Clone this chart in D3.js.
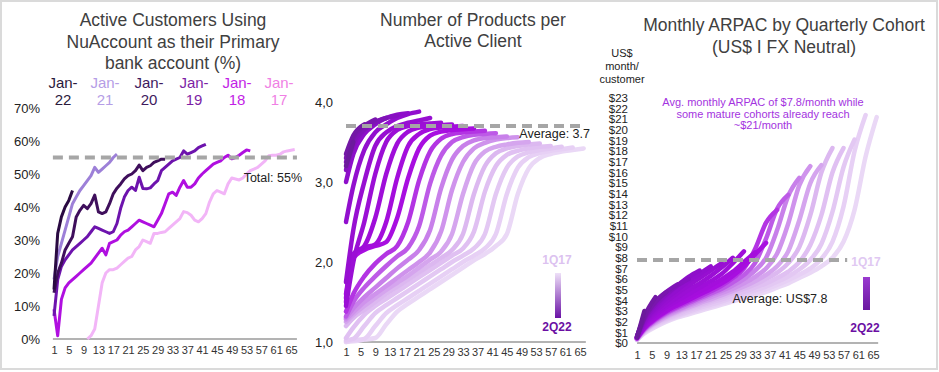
<!DOCTYPE html>
<html>
<head>
<meta charset="utf-8">
<script src="https://cdn.jsdelivr.net/npm/d3@7"></script>
<style>
  body { margin: 0; background: #fff; }
  svg { display: block; }
</style>
</head>
<body>
<div class="chart"></div>
<script>
const WIDTH = 939;
const HEIGHT = 372;
const FONT = "'Liberation Sans', Arial, Helvetica, sans-serif";

// ---- shared ----
const monthTicks = [1, 5, 9, 13, 17, 21, 25, 29, 33, 37, 41, 45, 49, 53, 57, 61, 65];

// ---- panel 1: primary bank account (%) by yearly cohort, monthly values ----
const yearCohorts = ["Jan-17", "Jan-18", "Jan-19", "Jan-20", "Jan-21", "Jan-22"];
const yearStart = [10, 1, 1, 1, 1, 1];
const jan17 = [0, 1, 3, 10, 17, 20, 21, 21, 21.5, 22.5, 23.5, 24.5, 25, 27, 28, 30, 29.5, 29, 32, 32,
  32.3, 32.5, 33.5, 34.5, 35.5, 36.5, 38.6, 38.3, 37.5, 36, 35.5, 36.5, 38, 41.5, 44, 45, 44.5, 44,
  47, 48.8, 48.5, 48.2, 48.8, 50, 51, 51.5, 52, 53, 54, 55.5, 55.7, 55.7, 56, 56.7, 57, 57.2, 57.4];
const jan18 = [9, 1, 12, 15.5, 17, 18, 19, 20, 21, 22, 23, 24.5, 26, 27.5, 25.5, 29, 29.5, 30, 31.5,
  32.5, 33, 34, 35, 36, 35.5, 35, 34.5, 34, 36, 38, 41, 44, 44.5, 43.5, 46, 48, 46, 46, 47, 48.8,
  50, 51, 52, 53, 53.5, 54, 55, 55.7, 54.6, 55, 55.7, 56.5, 57.3, 57];
const jan19 = [7, 18, 22, 24, 25.5, 27, 28, 29, 30, 31, 32.5, 34, 33.5, 33, 32.5, 32, 32.5, 35, 39.6,
  43, 45, 46, 45, 49, 45.6, 45.5, 45.8, 47, 48, 51, 52, 53, 54, 54.5, 55, 57, 56, 56.5, 57, 58, 58.5, 59];
const jan20 = [14, 20, 23, 27, 29, 31, 37, 39, 40.5, 39.5, 41, 43.6, 38.5, 38, 38.5, 41, 44, 45.7, 47,
  48.5, 49.5, 50, 51, 52.7, 51, 52, 52.5, 53.5, 54, 54.5, 54.5];
const jan21 = [18, 25, 29, 33, 37, 41, 43, 45, 46.5, 48, 49.5, 52, 50.5, 51.5, 52.5, 53.5, 55, 56];
const jan22 = [15, 32, 37, 40, 42, 45];
const yearValues = [jan17, jan18, jan19, jan20, jan21, jan22];
const yearLineColors = ["#f2b5f7", "#b00fe0", "#6d13ad", "#3f0f5c", "#9d80d8", "#2a0a42"];
const yearLabelColors = ["#f07fe4", "#c21ee6", "#7d1fa6", "#3e1a5e", "#b59de6", "#2b1a3c"];
const primaryTotal = 55;

// ---- panels 2 & 3: quarterly cohorts, values at months 1,3,6,...,66 ----
const quarterCohorts = ["1Q17", "2Q17", "3Q17", "4Q17", "1Q18", "2Q18", "3Q18", "4Q18", "1Q19", "2Q19",
  "3Q19", "4Q19", "1Q20", "2Q20", "3Q20", "4Q20", "1Q21", "2Q21", "3Q21", "4Q21", "1Q22", "2Q22"];
const sampleMonths = [1, 3, 6, 9, 12, 15, 18, 21, 24, 27, 30, 33, 36, 39, 42, 45, 48, 51, 54, 57, 60, 63, 66];

const productValues = [
  [1.00, 1.01, 1.03, 1.05, 1.22, 1.38, 1.48, 1.57, 1.66, 1.75, 1.84, 1.93, 2.02, 2.10, 2.20, 2.35, 2.85, 3.17, 3.30, 3.35, 3.38, 3.40, 3.42],
  [1.00, 1.02, 1.04, 1.20, 1.36, 1.46, 1.55, 1.64, 1.73, 1.82, 1.91, 2.00, 2.08, 2.17, 2.35, 2.85, 3.18, 3.31, 3.36, 3.39, 3.41, 3.43],
  [1.02, 1.04, 1.20, 1.36, 1.46, 1.55, 1.64, 1.73, 1.82, 1.91, 2.00, 2.08, 2.17, 2.35, 2.85, 3.18, 3.32, 3.37, 3.40, 3.42, 3.44],
  [1.05, 1.18, 1.34, 1.45, 1.54, 1.63, 1.72, 1.81, 1.90, 1.99, 2.08, 2.17, 2.38, 2.88, 3.20, 3.34, 3.39, 3.42, 3.44, 3.45],
  [1.20, 1.30, 1.40, 1.50, 1.60, 1.69, 1.78, 1.87, 1.96, 2.05, 2.15, 2.35, 2.85, 3.20, 3.36, 3.42, 3.45, 3.47, 3.48],
  [1.25, 1.34, 1.45, 1.55, 1.65, 1.74, 1.83, 1.93, 2.03, 2.13, 2.35, 2.85, 3.22, 3.38, 3.44, 3.47, 3.49, 3.50],
  [1.28, 1.37, 1.50, 1.60, 1.70, 1.80, 1.90, 2.00, 2.12, 2.38, 2.90, 3.25, 3.42, 3.49, 3.53, 3.55, 3.56],
  [1.30, 1.42, 1.56, 1.68, 1.80, 1.92, 2.03, 2.15, 2.40, 2.92, 3.28, 3.45, 3.52, 3.55, 3.56, 3.57],
  [1.32, 1.50, 1.68, 1.82, 1.95, 2.07, 2.18, 2.45, 2.98, 3.33, 3.50, 3.56, 3.59, 3.60, 3.61],
  [1.38, 1.60, 1.82, 1.98, 2.10, 2.20, 2.50, 3.02, 3.38, 3.54, 3.60, 3.62, 3.63, 3.64],
  [1.60, 2.05, 2.15, 2.20, 2.25, 2.55, 3.05, 3.42, 3.58, 3.63, 3.65, 3.66, 3.67],
  [1.55, 2.10, 2.18, 2.22, 2.50, 3.05, 3.45, 3.60, 3.66, 3.68, 3.69, 3.70],
  [1.50, 2.10, 2.20, 2.55, 3.10, 3.48, 3.63, 3.68, 3.70, 3.71, 3.72],
  [1.45, 2.00, 2.50, 3.10, 3.50, 3.65, 3.70, 3.72, 3.73, 3.74],
  [1.75, 2.40, 3.00, 3.45, 3.62, 3.70, 3.74, 3.77, 3.80],
  [2.50, 2.95, 3.40, 3.62, 3.72, 3.80, 3.85, 3.88],
  [3.00, 3.35, 3.60, 3.72, 3.80, 3.84, 3.86],
  [3.15, 3.45, 3.65, 3.75, 3.80, 3.83],
  [3.25, 3.50, 3.66, 3.75, 3.80],
  [3.30, 3.55, 3.70, 3.78],
  [3.35, 3.58, 3.72],
  [3.20, 3.50]
];
const productAverage = 3.7;

const arpacValues = [
  [0.3, 0.9, 1.5, 2.0, 2.4, 2.7, 3.0, 3.3, 3.6, 3.9, 4.2, 4.5, 4.8, 5.2, 5.6, 6.1, 6.6, 7.2, 8.0, 9.5, 12.5, 17.5, 21.2],
  [0.3, 1.0, 1.6, 2.1, 2.5, 2.85, 3.15, 3.45, 3.75, 4.05, 4.4, 4.7, 5.05, 5.45, 5.9, 6.4, 7.0, 7.9, 9.5, 12.8, 18.0, 21.4],
  [0.3, 1.0, 1.7, 2.2, 2.6, 2.95, 3.3, 3.6, 3.9, 4.25, 4.6, 4.95, 5.3, 5.75, 6.25, 6.9, 7.8, 9.3, 12.3, 16.5, 19.1],
  [0.35, 1.1, 1.8, 2.3, 2.7, 3.1, 3.45, 3.8, 4.1, 4.45, 4.8, 5.2, 5.6, 6.1, 6.7, 7.6, 9.2, 12.0, 16.0, 18.3],
  [0.35, 1.1, 1.85, 2.4, 2.85, 3.25, 3.6, 3.95, 4.3, 4.7, 5.1, 5.5, 6.0, 6.6, 7.5, 9.0, 12.0, 16.0, 18.3],
  [0.35, 1.15, 1.9, 2.5, 2.95, 3.35, 3.75, 4.1, 4.5, 4.9, 5.3, 5.8, 6.4, 7.2, 8.6, 11.5, 15.0, 16.7],
  [0.4, 1.2, 2.0, 2.6, 3.05, 3.5, 3.9, 4.3, 4.7, 5.1, 5.6, 6.2, 7.0, 8.4, 11.2, 14.8, 16.6],
  [0.4, 1.25, 2.05, 2.7, 3.15, 3.6, 4.05, 4.5, 4.9, 5.4, 6.0, 6.8, 8.0, 10.6, 13.8, 15.5],
  [0.4, 1.3, 2.15, 2.8, 3.3, 3.75, 4.2, 4.65, 5.1, 5.7, 6.4, 7.5, 9.8, 12.6, 13.9],
  [0.45, 1.35, 2.2, 2.9, 3.4, 3.9, 4.35, 4.85, 5.4, 6.1, 7.0, 8.8, 11.3, 12.5],
  [0.45, 1.4, 2.3, 3.0, 3.55, 4.05, 4.55, 5.05, 5.6, 6.3, 7.2, 8.3, 9.4],
  [0.5, 1.5, 2.45, 3.15, 3.75, 4.3, 4.85, 5.4, 6.0, 6.7, 7.6, 8.5],
  [0.5, 1.6, 2.6, 3.4, 4.0, 4.6, 5.2, 5.8, 6.5, 7.5, 8.6],
  [0.5, 1.7, 2.8, 3.6, 4.3, 5.0, 5.6, 6.3, 7.1, 8.0],
  [0.55, 1.8, 3.0, 3.9, 4.7, 5.4, 6.1, 6.8, 7.5],
  [0.55, 1.9, 3.2, 4.2, 5.0, 5.8, 6.5, 7.2],
  [0.6, 2.0, 3.4, 4.5, 5.4, 6.2, 6.8],
  [0.6, 2.2, 3.6, 4.6, 5.4, 6.0],
  [0.6, 2.3, 3.8, 4.8, 5.5],
  [0.6, 2.4, 3.9, 4.8],
  [0.6, 2.5, 4.3],
  [0.5, 3.0]
];
const arpacAverage = 7.8;

const pctTicks = [0, 10, 20, 30, 40, 50, 60, 70];
const productTicks = [1, 2, 3, 4];
const dollarTicks = [0, 1, 2, 3, 4, 5, 6, 7, 8, 9, 10, 11, 12, 13, 14, 15, 16, 17, 18, 19, 20, 21, 22, 23];

const cohortColor = d3.scaleLinear()
  .domain([0, 4, 7, 10, 16, 21])
  .range(["#ead8f6", "#dcb8f0", "#c880ea", "#a80ee0", "#8e0fca", "#6c1a9c"]);

// ---- svg ----
const svg = d3.select(".chart").append("svg")
  .attr("width", WIDTH)
  .attr("height", HEIGHT)
  .attr("font-family", FONT);

svg.append("rect")
  .attr("x", 1).attr("y", 1)
  .attr("width", 936).attr("height", 368)
  .attr("fill", "#fff")
  .attr("stroke", "#dadada")
  .attr("stroke-width", 2);

const defs = svg.append("defs");
function gradient(id, top, bottom) {
  const lg = defs.append("linearGradient").attr("id", id)
    .attr("x1", 0).attr("y1", 0).attr("x2", 0).attr("y2", 1);
  lg.append("stop").attr("offset", "0%").attr("stop-color", top);
  lg.append("stop").attr("offset", "100%").attr("stop-color", bottom);
}
gradient("legend2", "#eee0f8", "#6a12a6");
gradient("legend3", "#9a3ad0", "#6a18a0");

function multiText(lines, x, y0, dy, size, color, anchor) {
  svg.append("text")
    .attr("text-anchor", anchor || "middle")
    .attr("font-size", size)
    .attr("fill", color)
    .selectAll("tspan")
    .data(lines)
    .join("tspan")
      .attr("x", x)
      .attr("y", (d, i) => y0 + i * dy)
      .text(d => d);
}

function bottomAxis(scale, yPos, pad, x0, x1) {
  svg.append("line")
    .attr("x1", x0).attr("x2", x1)
    .attr("y1", yPos).attr("y2", yPos)
    .attr("stroke", "#9a9a9a")
    .attr("stroke-width", 1.5);
  const g = svg.append("g")
    .attr("transform", "translate(0," + yPos + ")")
    .call(d3.axisBottom(scale).tickValues(monthTicks).tickSize(0).tickPadding(pad));
  g.select(".domain").remove();
  g.attr("font-family", FONT).attr("font-size", 11);
  g.selectAll("text").attr("fill", "#333");
}

function leftAxis(scale, xPos, ticks, fmt, size) {
  const g = svg.append("g")
    .attr("transform", "translate(" + xPos + ",0)")
    .call(d3.axisLeft(scale).tickValues(ticks).tickFormat(fmt).tickSize(0).tickPadding(0));
  g.select(".domain").remove();
  g.attr("font-family", FONT).attr("font-size", size);
  g.selectAll("text").attr("fill", "#222");
}

function dashed(x0, x1, yPos) {
  svg.append("line")
    .attr("x1", x0).attr("x2", x1)
    .attr("y1", yPos).attr("y2", yPos)
    .attr("stroke", "#a6a6a6")
    .attr("stroke-width", 4)
    .attr("stroke-dasharray", "10,6");
}

// ================= Panel 1 =================
const X1 = d3.scaleLinear().domain([1, 65]).range([54, 291]);
const Y1 = d3.scaleLinear().domain([0, 70]).range([339, 108]);

multiText(["Active Customers Using", "NuAccount as their Primary", "bank account (%)"],
  173, 26, 21.5, 17.5, "#404040");

const labelX = [279, 237, 194, 149, 105, 63];
yearCohorts.forEach((c, i) => {
  const parts = c.split("-");
  multiText([parts[0] + "-", parts[1]], labelX[i], 87.5, 17, 15, yearLabelColors[i]);
});

leftAxis(Y1, 40, pctTicks, d => d + "%", 13);
bottomAxis(X1, 339, 7, X1(0.7), X1(66.6));

const line1 = d3.line()
  .x(d => X1(d.m))
  .y(d => Y1(d.v));

yearValues.forEach((vals, i) => {
  const pts = vals.map((v, j) => ({m: yearStart[i] + j, v: v}));
  svg.append("path")
    .datum(pts)
    .attr("d", line1)
    .attr("fill", "none")
    .attr("stroke", yearLineColors[i])
    .attr("stroke-width", 3)
    .attr("stroke-linejoin", "round");
});

dashed(X1(0.7), X1(66.6), Y1(primaryTotal));
svg.append("text")
  .attr("x", 302).attr("y", 182)
  .attr("text-anchor", "end")
  .attr("font-size", 12.5)
  .attr("fill", "#222")
  .text("Total: " + primaryTotal + "%");

// ================= Panel 2 =================
const X2 = d3.scaleLinear().domain([1, 65]).range([346, 580]);
const Y2 = d3.scaleLinear().domain([1, 4]).range([342, 102]);

multiText(["Number of Products per", "Active Client"], 473, 26, 20.5, 17.5, "#404040");

leftAxis(Y2, 333, productTicks, d => d.toFixed(1).replace(".", ","), 13);
bottomAxis(X2, 342, 6, X2(1), X2(66.6));

const line2 = d3.line()
  .x(d => X2(d.m))
  .y(d => Y2(d.v))
  .curve(d3.curveMonotoneX);

productValues.forEach((vals, k) => {
  const pts = vals.map((v, j) => ({m: sampleMonths[j], v: v}));
  svg.append("path")
    .datum(pts)
    .attr("d", line2)
    .attr("fill", "none")
    .attr("stroke", cohortColor(k))
    .attr("stroke-width", 4.5)
    .attr("stroke-linecap", "round")
    .attr("stroke-linejoin", "round");
});

dashed(X2(1), X2(66.6), Y2(productAverage));
svg.append("text")
  .attr("x", 590).attr("y", 138)
  .attr("text-anchor", "end")
  .attr("font-size", 12.5)
  .attr("fill", "#222")
  .text("Average: " + productAverage);

svg.append("text").attr("x", 557).attr("y", 264).attr("text-anchor", "middle")
  .attr("font-size", 12).attr("font-weight", "bold").attr("fill", "#dcc2f0")
  .text(quarterCohorts[0]);
svg.append("rect").attr("x", 555).attr("y", 273).attr("width", 6).attr("height", 45)
  .attr("fill", "url(#legend2)");
svg.append("text").attr("x", 557).attr("y", 331).attr("text-anchor", "middle")
  .attr("font-size", 12).attr("font-weight", "bold").attr("fill", "#6b0fa3")
  .text(quarterCohorts[quarterCohorts.length - 1]);

// ================= Panel 3 =================
const X3 = d3.scaleLinear().domain([1, 65]).range([637, 873]);
const Y3 = d3.scaleLinear().domain([0, 23]).range([343, 98]);

multiText(["Monthly ARPAC by Quarterly Cohort", "(US$ I FX Neutral)"], 784, 31, 22, 17.5, "#404040");
multiText(["US$", "month/", "customer"], 622, 57, 13, 11, "#222");

leftAxis(Y3, 628, dollarTicks, d => "$" + d, 11.5);
bottomAxis(X3, 343, 8, X3(1), X3(66.4));

const line3 = d3.line()
  .x(d => X3(d.m))
  .y(d => Y3(d.v))
  .curve(d3.curveMonotoneX);

arpacValues.forEach((vals, k) => {
  const pts = vals.map((v, j) => ({m: sampleMonths[j], v: v}));
  svg.append("path")
    .datum(pts)
    .attr("d", line3)
    .attr("fill", "none")
    .attr("stroke", cohortColor(k))
    .attr("stroke-width", 4.5)
    .attr("stroke-linecap", "round")
    .attr("stroke-linejoin", "round");
});

dashed(X3(1), X3(58), Y3(arpacAverage));
svg.append("text")
  .attr("x", 780).attr("y", 303)
  .attr("text-anchor", "middle")
  .attr("font-size", 12.5)
  .attr("fill", "#222")
  .text("Average: US$" + arpacAverage);

multiText(["Avg. monthly ARPAC of $" + arpacAverage + "/month while",
  "some mature cohorts already reach", "~$21/month"], 763, 106, 11.5, 11, "#a333e0");

svg.append("text").attr("x", 866).attr("y", 266).attr("text-anchor", "middle")
  .attr("font-size", 12).attr("font-weight", "bold").attr("fill", "#e0c8f2")
  .text(quarterCohorts[0]);
svg.append("rect").attr("x", 863).attr("y", 277).attr("width", 7).attr("height", 33)
  .attr("fill", "url(#legend3)");
svg.append("text").attr("x", 865).attr("y", 332).attr("text-anchor", "middle")
  .attr("font-size", 12).attr("font-weight", "bold").attr("fill", "#6b0fa3")
  .text(quarterCohorts[quarterCohorts.length - 1]);
</script>
</body>
</html>
